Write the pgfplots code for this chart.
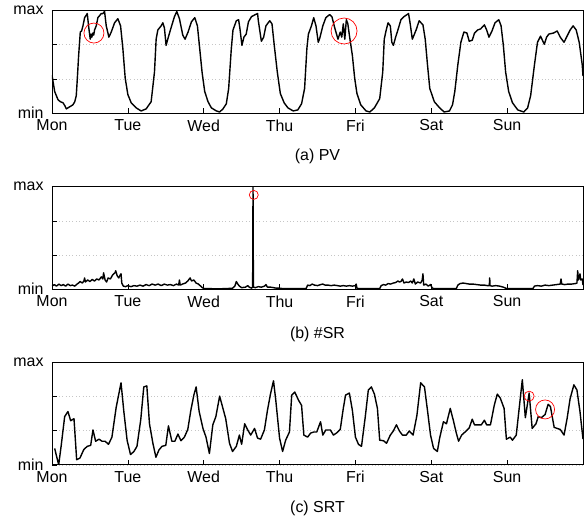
\documentclass[border=0pt]{standalone}
\usepackage{fontspec}
\setmainfont{Liberation Sans}
\usepackage{pgfplots}
\pgfplotsset{compat=1.18}

\pgfplotsset{
  week/.style={
    scale only axis, width=531bp, height=102.5bp,
    anchor=north west,
    xmin=0, xmax=7, ymin=0, ymax=1,
    xtick={0,...,6}, xticklabels={Mon,Tue,Wed,Thu,Fri,Sat,Sun},
    ytick={0,0.3333,0.6667,1}, yticklabels={min,,,max},
    tick pos=left, tick align=inside,
    major tick length=5bp,
    ymajorgrids,
    grid style={gray!45, line width=0.6bp, dash pattern=on 0.6bp off 2.8bp},
    axis line style={line width=0.8bp},
    tick style={black, line width=0.6bp},
    ticklabel style={font=\fontsize{16}{18}\selectfont},
    xticklabel shift=3bp, yticklabel shift=5bp,
  },
  curve/.style={black, line width=1.4bp, line join=round, mark=none},
  hl/.style={red, only marks, mark=o, mark options={line width=0.7bp}},
}

\begin{document}
\begin{tikzpicture}
\useasboundingbox (0,0) rectangle (584bp,-518bp);

% (a) PV
\begin{axis}[week, at={(52bp,-10.5bp)}]
\addplot[curve] coordinates {
(0,0.37) (0.035,0.21) (0.079,0.13) (0.11,0.11) (0.145,0.10) (0.17,0.07)
(0.189,0.04) (0.21,0.05) (0.232,0.06) (0.255,0.07) (0.276,0.08) (0.30,0.11)
(0.320,0.17) (0.335,0.35) (0.351,0.56) (0.373,0.79) (0.39,0.80) (0.408,0.85)
(0.430,0.93) (0.465,0.97) (0.482,0.85) (0.504,0.72) (0.515,0.77) (0.525,0.74)
(0.539,0.78) (0.55,0.76) (0.561,0.81) (0.583,0.85) (0.605,0.93) (0.649,0.97)
(0.67,0.97) (0.693,0.99) (0.715,0.85) (0.75,0.74) (0.781,0.79) (0.825,0.88)
(0.868,0.92) (0.904,0.85) (0.934,0.63) (0.965,0.34) (1.0,0.18)
(1.044,0.10) (1.11,0.05) (1.175,0.02) (1.241,0.04) (1.307,0.11) (1.351,0.40)
(1.373,0.72) (1.395,0.81) (1.439,0.85) (1.461,0.88) (1.482,0.83) (1.504,0.66)
(1.526,0.72) (1.561,0.81) (1.614,0.94) (1.645,0.99) (1.68,0.92) (1.724,0.76)
(1.754,0.72) (1.794,0.79) (1.838,0.89) (1.882,0.93) (1.917,0.85) (1.947,0.63)
(1.978,0.40) (2.013,0.21) (2.057,0.11) (2.101,0.05) (2.167,0.02) (2.21,0.01)
(2.254,0.04) (2.298,0.09) (2.329,0.24) (2.364,0.63) (2.386,0.81) (2.43,0.90)
(2.46,0.91) (2.478,0.82) (2.504,0.66) (2.53,0.74) (2.56,0.77) (2.59,0.89)
(2.63,0.94) (2.68,0.96) (2.71,0.97) (2.72,0.90) (2.76,0.70) (2.79,0.74)
(2.82,0.85) (2.87,0.90) (2.90,0.87) (2.93,0.66) (2.97,0.40) (3.01,0.19)
(3.06,0.10) (3.11,0.05) (3.18,0.02) (3.24,0.03) (3.29,0.09) (3.33,0.24)
(3.36,0.63) (3.38,0.77) (3.42,0.85) (3.45,0.93) (3.48,0.85) (3.51,0.69)
(3.53,0.73) (3.57,0.85) (3.61,0.93) (3.66,0.96) (3.69,0.94) (3.72,0.85)
(3.77,0.72) (3.80,0.79) (3.82,0.74) (3.84,0.87) (3.86,0.72) (3.88,0.91)
(3.90,0.87) (3.92,0.76) (3.96,0.56) (3.99,0.34) (4.02,0.19) (4.07,0.08)
(4.14,0.02) (4.19,0.01) (4.25,0.05) (4.32,0.14) (4.36,0.40) (4.38,0.72)
(4.40,0.79) (4.43,0.88) (4.46,0.85) (4.48,0.69) (4.50,0.66) (4.53,0.74)
(4.56,0.81) (4.60,0.91) (4.64,0.94) (4.68,0.96) (4.70,0.97) (4.72,0.88)
(4.75,0.72) (4.80,0.81) (4.84,0.90) (4.89,0.86) (4.92,0.72) (4.95,0.47)
(4.98,0.24) (5.04,0.11) (5.11,0.05) (5.17,0.01) (5.24,0.02) (5.28,0.08)
(5.31,0.21) (5.35,0.47) (5.39,0.69) (5.43,0.79) (5.47,0.78) (5.50,0.70)
(5.54,0.71) (5.57,0.78) (5.61,0.81) (5.65,0.82) (5.70,0.86) (5.73,0.81)
(5.76,0.74) (5.80,0.80) (5.84,0.88) (5.89,0.91) (5.92,0.85) (5.95,0.66)
(5.98,0.40) (6.02,0.21) (6.07,0.10) (6.14,0.03) (6.22,0.01) (6.27,0.05)
(6.31,0.17) (6.36,0.47) (6.40,0.69) (6.44,0.75) (6.49,0.67) (6.52,0.74)
(6.55,0.77) (6.61,0.78) (6.66,0.80) (6.70,0.74) (6.75,0.69) (6.79,0.75)
(6.83,0.81) (6.87,0.85) (6.91,0.81) (6.95,0.69) (6.99,0.47) (7.0,0.36)
};
\addplot[hl, mark size=10bp] coordinates {(0.553,0.78)};
\addplot[hl, mark size=13bp] coordinates {(3.85,0.80)};
\end{axis}
\node[anchor=base, font=\fontsize{16}{18}\selectfont] at (317.5bp,-160.5bp) {(a) PV};

% (b) #SR
\begin{axis}[week, at={(52bp,-186.7bp)}]
\addplot[curve] coordinates {
(0,0.03) (0.03,0.045) (0.06,0.03) (0.09,0.05) (0.12,0.035) (0.15,0.045)
(0.18,0.03) (0.21,0.05) (0.24,0.035) (0.27,0.04) (0.30,0.03) (0.33,0.05)
(0.35,0.06) (0.37,0.075) (0.40,0.06) (0.42,0.08) (0.43,0.11) (0.44,0.07)
(0.47,0.09) (0.50,0.075) (0.53,0.095) (0.56,0.08) (0.59,0.10) (0.62,0.09)
(0.65,0.12) (0.67,0.10) (0.68,0.16) (0.70,0.09) (0.72,0.07) (0.74,0.11)
(0.77,0.10) (0.80,0.14) (0.83,0.16) (0.84,0.18) (0.86,0.13) (0.88,0.11)
(0.90,0.14) (0.91,0.15) (0.92,0.06) (0.94,0.03) (0.97,0.025) (1.0,0.035)
(1.04,0.025) (1.08,0.035) (1.12,0.03) (1.16,0.04) (1.20,0.03) (1.24,0.045)
(1.28,0.035) (1.32,0.05) (1.36,0.04) (1.40,0.05) (1.44,0.035) (1.48,0.05)
(1.52,0.04) (1.56,0.045) (1.60,0.035) (1.64,0.05) (1.67,0.04) (1.68,0.09)
(1.69,0.04) (1.72,0.05) (1.76,0.06) (1.79,0.08) (1.82,0.11) (1.84,0.08)
(1.87,0.09) (1.90,0.06) (1.93,0.05) (1.96,0.03) (1.98,0.015) (2.01,0.005)
(2.1,0.005) (2.2,0.004) (2.3,0.006) (2.38,0.01) (2.41,0.03) (2.43,0.075)
(2.45,0.05) (2.47,0.03) (2.50,0.015) (2.55,0.02) (2.58,0.035) (2.60,0.02)
(2.63,0.01) (2.645,0.02) (2.65,1.0) (2.655,0.02) (2.68,0.015) (2.72,0.025)
(2.76,0.02) (2.80,0.03) (2.82,0.045) (2.84,0.02) (2.88,0.02) (2.92,0.015)
(2.96,0.01) (3.0,0.01) (3.05,0.005) (3.2,0.005) (3.35,0.006) (3.37,0.04)
(3.40,0.035) (3.43,0.05) (3.46,0.04) (3.50,0.035) (3.54,0.045) (3.57,0.05)
(3.60,0.04) (3.64,0.04) (3.68,0.035) (3.72,0.04) (3.76,0.035) (3.80,0.03)
(3.84,0.035) (3.88,0.03) (3.92,0.035) (3.96,0.03) (4.0,0.035) (4.01,0.05)
(4.02,0.01) (4.05,0.005) (4.2,0.005) (4.32,0.006) (4.34,0.035) (4.37,0.045)
(4.40,0.04) (4.43,0.055) (4.46,0.05) (4.50,0.06) (4.53,0.065) (4.56,0.08)
(4.58,0.07) (4.60,0.075) (4.62,0.10) (4.64,0.06) (4.67,0.07) (4.70,0.065)
(4.73,0.08) (4.75,0.06) (4.77,0.10) (4.79,0.05) (4.82,0.07) (4.86,0.06)
(4.88,0.09) (4.89,0.15) (4.90,0.04) (4.93,0.05) (4.96,0.03) (4.99,0.045)
(5.01,0.015) (5.03,0.005) (5.2,0.005) (5.33,0.006) (5.35,0.04) (5.38,0.055)
(5.42,0.06) (5.46,0.055) (5.50,0.05) (5.55,0.05) (5.60,0.045) (5.65,0.04)
(5.70,0.04) (5.74,0.035) (5.765,0.035) (5.77,0.11) (5.775,0.035) (5.80,0.03)
(5.85,0.035) (5.90,0.03) (5.95,0.02) (5.98,0.01) (6.0,0.005) (6.2,0.005)
(6.34,0.006) (6.36,0.03) (6.40,0.035) (6.45,0.03) (6.50,0.04) (6.55,0.035)
(6.60,0.04) (6.65,0.045) (6.70,0.05) (6.71,0.10) (6.72,0.05) (6.76,0.045)
(6.80,0.05) (6.85,0.05) (6.90,0.055) (6.92,0.06) (6.93,0.18) (6.94,0.09)
(6.96,0.15) (6.97,0.09) (6.99,0.10) (7.0,0.04)
};
\addplot[hl, mark size=4.5bp] coordinates {(2.66,0.92)};
\end{axis}
\node[anchor=base, font=\fontsize{16}{18}\selectfont] at (317.5bp,-338.4bp) {(b) \#SR};

% (c) SRT
\begin{axis}[week, at={(52bp,-362.3bp)}]
\addplot[curve] coordinates {
(0.035,0.16) (0.088,0.0) (0.12,0.18) (0.167,0.47) (0.21,0.52) (0.246,0.43)
(0.29,0.45) (0.325,0.05) (0.368,0.065) (0.42,0.15) (0.465,0.18) (0.51,0.19)
(0.54,0.34) (0.575,0.23) (0.62,0.25) (0.66,0.23) (0.70,0.23) (0.745,0.20)
(0.79,0.27) (0.846,0.56) (0.91,0.80) (0.947,0.52) (0.99,0.24) (1.035,0.10)
(1.08,0.13) (1.12,0.18) (1.17,0.44) (1.21,0.76) (1.25,0.77) (1.285,0.40)
(1.33,0.21) (1.37,0.074) (1.41,0.145) (1.45,0.18) (1.50,0.19) (1.535,0.38)
(1.58,0.23) (1.62,0.23) (1.66,0.30) (1.70,0.235) (1.745,0.27) (1.79,0.345)
(1.83,0.53) (1.87,0.68) (1.90,0.76) (1.94,0.52) (1.99,0.355) (2.03,0.27)
(2.075,0.11) (2.12,0.39) (2.16,0.47) (2.21,0.67) (2.25,0.56) (2.29,0.45)
(2.34,0.21) (2.38,0.13) (2.43,0.18) (2.47,0.29) (2.50,0.20) (2.54,0.40)
(2.58,0.34) (2.62,0.29) (2.67,0.355) (2.71,0.26) (2.75,0.25) (2.80,0.34)
(2.84,0.53) (2.88,0.69) (2.92,0.82) (2.95,0.63) (3.0,0.26) (3.04,0.13)
(3.08,0.24) (3.13,0.32) (3.16,0.68) (3.20,0.71) (3.25,0.63) (3.29,0.58)
(3.32,0.29) (3.37,0.27) (3.41,0.31) (3.45,0.32) (3.49,0.32) (3.54,0.42)
(3.57,0.29) (3.61,0.34) (3.67,0.34) (3.71,0.29) (3.75,0.31) (3.80,0.345)
(3.84,0.55) (3.87,0.68) (3.92,0.70) (3.96,0.53) (4.0,0.27) (4.04,0.20)
(4.08,0.18) (4.13,0.47) (4.17,0.73) (4.21,0.76) (4.25,0.69) (4.29,0.55)
(4.32,0.24) (4.37,0.235) (4.41,0.21) (4.46,0.29) (4.50,0.33) (4.54,0.39)
(4.58,0.33) (4.62,0.29) (4.67,0.29) (4.71,0.33) (4.76,0.29) (4.81,0.48)
(4.86,0.80) (4.91,0.76) (4.95,0.53) (4.99,0.29) (5.03,0.16) (5.08,0.13)
(5.11,0.26) (5.16,0.42) (5.20,0.40) (5.25,0.55) (5.29,0.435) (5.33,0.31)
(5.36,0.23) (5.40,0.29) (5.46,0.33) (5.50,0.36) (5.54,0.445) (5.57,0.39)
(5.62,0.39) (5.66,0.39) (5.70,0.435) (5.73,0.39) (5.78,0.39) (5.83,0.58)
(5.87,0.69) (5.91,0.65) (5.96,0.55) (5.99,0.25) (6.04,0.27) (6.07,0.24)
(6.12,0.29) (6.16,0.56) (6.20,0.83) (6.24,0.46) (6.29,0.70) (6.33,0.355)
(6.38,0.40) (6.41,0.47) (6.45,0.46) (6.50,0.49) (6.54,0.59) (6.57,0.57)
(6.62,0.365) (6.66,0.355) (6.70,0.345) (6.75,0.29) (6.79,0.45) (6.83,0.645)
(6.88,0.78) (6.92,0.73) (6.96,0.52) (7.0,0.25)
};
\addplot[hl, mark size=5bp] coordinates {(6.29,0.67)};
\addplot[hl, mark size=9.5bp] coordinates {(6.50,0.54)};
\end{axis}
\node[anchor=base, font=\fontsize{16}{18}\selectfont] at (317.5bp,-512.9bp) {(c) SRT};
\end{tikzpicture}
\end{document}
